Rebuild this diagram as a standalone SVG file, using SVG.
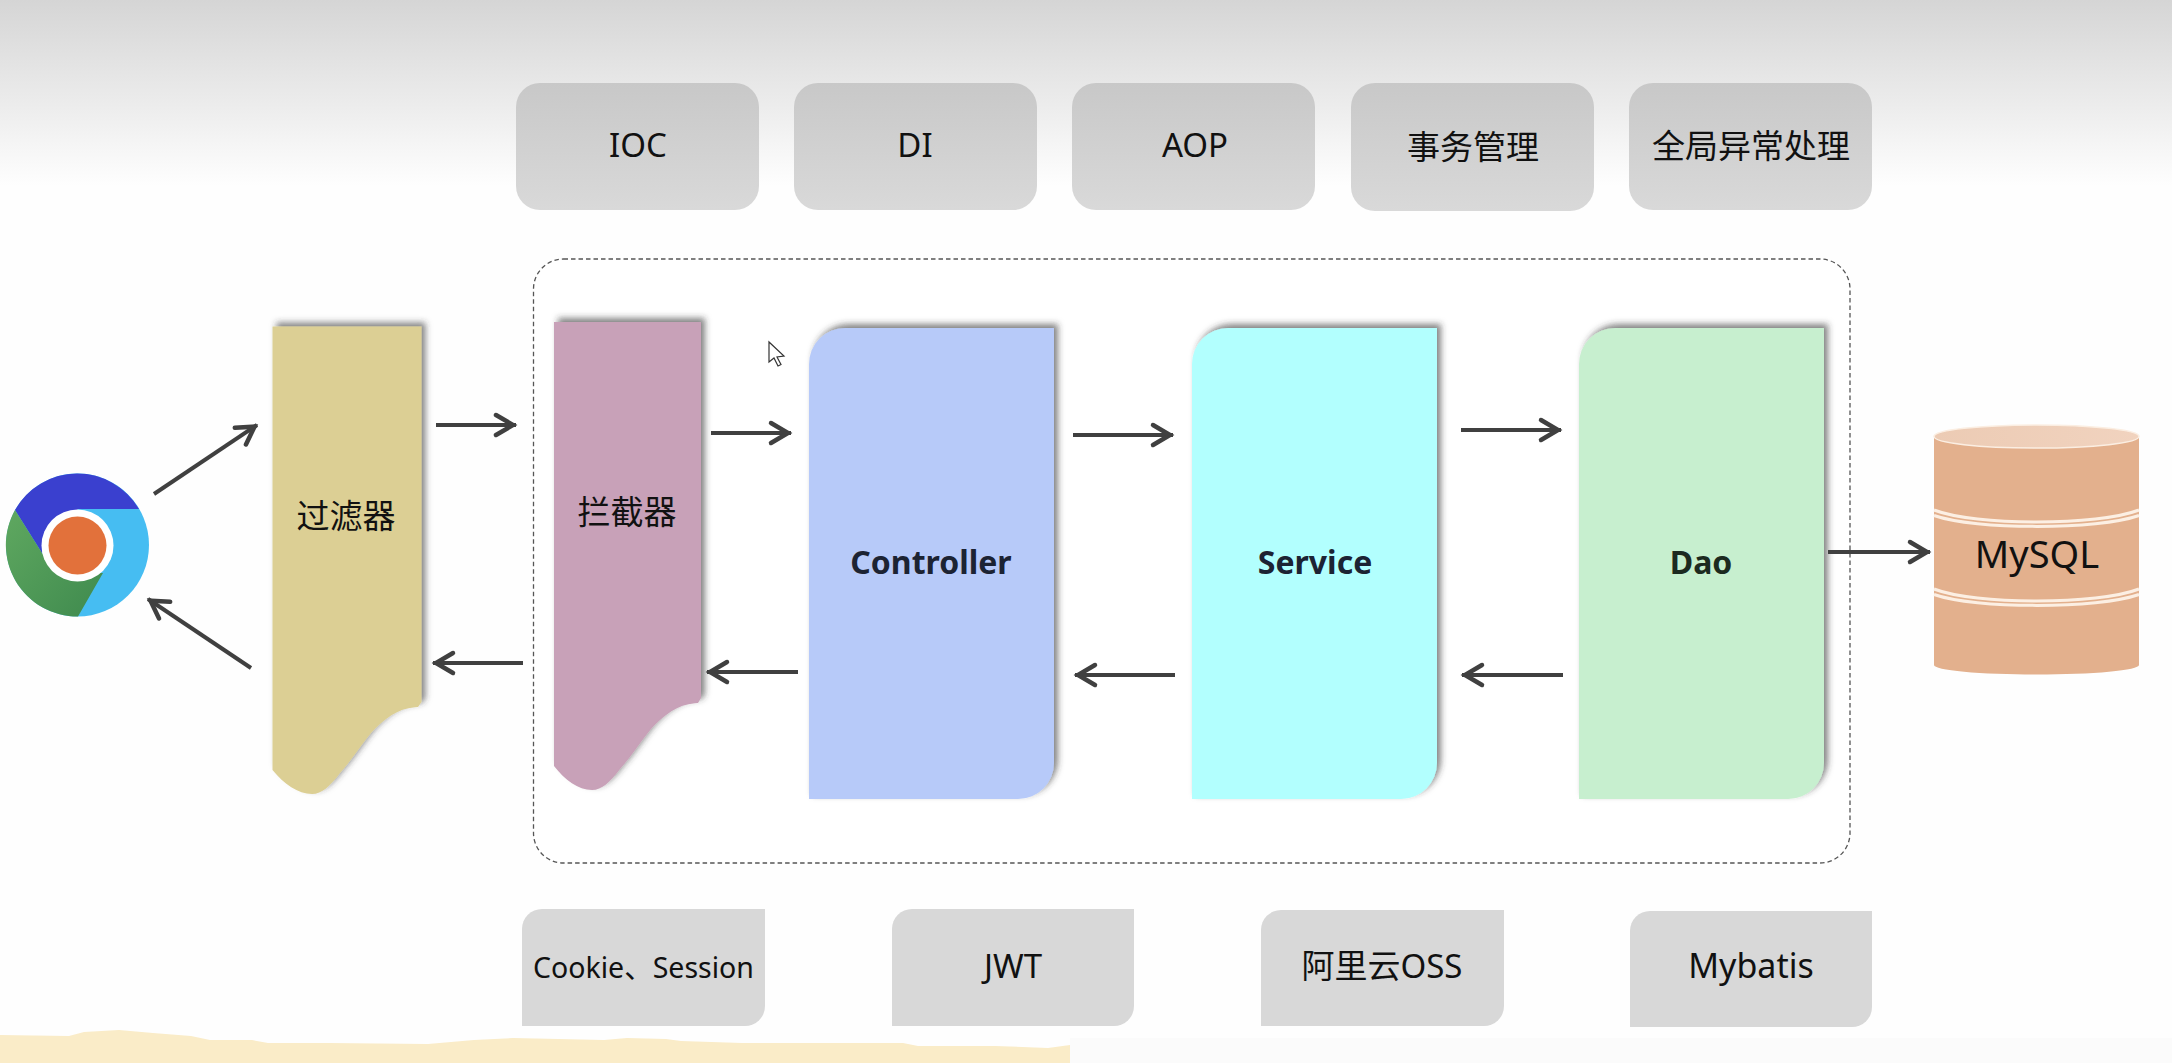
<svg xmlns="http://www.w3.org/2000/svg" width="2172" height="1063" viewBox="0 0 2172 1063">
  <style>
    text { font-family: "Noto Sans", "Noto Sans CJK SC", sans-serif; fill: #111; text-anchor: middle; }
    .t { font-size: 33px; }
    .b { font-size: 32px; font-weight: 700; fill: #1c2333; }
    .top { fill: url(#topBox); }
    .bot { fill: #d8d8d8; }
    .arrow { fill: none; stroke: #404040; stroke-width: 4; marker-end: url(#head); }
    .layer { filter: url(#lift); }
    .band { fill: none; stroke: #fcefe3; stroke-width: 3; }
  </style>
  <defs>
    <linearGradient id="sky" x1="0" y1="0" x2="0" y2="1">
      <stop offset="0" stop-color="#d5d5d5"/>
      <stop offset="1" stop-color="#fefefe"/>
    </linearGradient>
    <linearGradient id="topBox" x1="0" y1="0" x2="0" y2="1">
      <stop offset="0" stop-color="#c8c8c8"/>
      <stop offset="1" stop-color="#d9d9d9"/>
    </linearGradient>
    <linearGradient id="lid" x1="0" y1="0" x2="1" y2="0">
      <stop offset="0" stop-color="#eccbb4"/>
      <stop offset="1" stop-color="#f1d3bf"/>
    </linearGradient>
    <linearGradient id="leaf" x1="0" y1="0" x2="1" y2="1">
      <stop offset="0" stop-color="#5fa860"/>
      <stop offset="1" stop-color="#3f8a4e"/>
    </linearGradient>
    <filter id="lift" x="-15%" y="-5%" width="130%" height="110%">
      <feDropShadow dx="4" dy="-4" stdDeviation="3" flood-color="#333" flood-opacity="0.6"/>
    </filter>
    <marker id="head" markerUnits="userSpaceOnUse" markerWidth="32" markerHeight="30" refX="25" refY="15" orient="auto">
      <path d="M5 5 L22 15 L5 25" fill="none" stroke="#404040" stroke-width="4.5" stroke-linecap="round" stroke-linejoin="miter"/>
    </marker>
  </defs>

  <!-- page backdrop -->
  <rect width="2172" height="1063" fill="#fefefe"/>
  <rect width="2172" height="186" fill="url(#sky)"/>
  <rect x="1070" y="1038" width="1102" height="25" fill="#fbfbfb"/>
  <path id="paper-strip" fill="#faecc8" d="M0 1035 L69 1036 L84 1032 L119 1030 L153 1033 L191 1036 L210 1040 L252 1040 L268 1043 L329 1043 L428 1044 L474 1040 L513 1038 L604 1040 L627 1038 L666 1039 L681 1041 L742 1043 L903 1043 L918 1046 L995 1046 L1048 1048 L1070 1045 V1063 H0 Z"/>

  <!-- container boundary -->
  <rect id="container" x="533.5" y="259" width="1316.5" height="604" rx="30" fill="#fff" stroke="#555" stroke-width="1.3" stroke-dasharray="4.5 3"/>

  <!-- cross-cutting capabilities -->
  <g id="ioc"><rect class="top" x="516" y="83" width="243" height="127" rx="24"/><text class="t" x="638" y="157">IOC</text></g>
  <g id="di"><rect class="top" x="794" y="83" width="243" height="127" rx="24"/><text class="t" x="915" y="157">DI</text></g>
  <g id="aop"><rect class="top" x="1072" y="83" width="243" height="127" rx="24"/><text class="t" x="1195" y="157">AOP</text></g>
  <g id="tx"><rect class="top" x="1351" y="83" width="243" height="128" rx="24"/><text class="t" x="1473" y="159">事务管理</text></g>
  <g id="errors"><rect class="top" x="1629" y="83" width="243" height="127" rx="24"/><text class="t" x="1751" y="158">全局异常处理</text></g>

  <!-- browser -->
  <g id="browser">
    <circle cx="77.5" cy="545" r="71.5" fill="#46bdf2"/>
    <path d="M15 510 A71.5 71.5 0 0 1 139 509 H78 L42 553 Z" fill="#3a40cf"/>
    <path d="M15 510 A71.5 71.5 0 0 0 78 616.5 L103 573 H60 L42 553 Z" fill="url(#leaf)"/>
    <circle cx="77.5" cy="545.5" r="36" fill="#fff"/>
    <circle cx="77.5" cy="545.5" r="29" fill="#e2713b"/>
  </g>

  <!-- request pipeline -->
  <g id="filter">
    <path class="layer" fill="#dccf94" d="M272.5 326.5 H421.5 V702 L418 707 C400 708 388 715 371 733 C360 746 352 760 340 773 C330 786 322 794 312 794 C298 794 284 784 272.5 770 Z"/>
    <text class="t" x="346" y="528">过滤器</text>
  </g>
  <g id="interceptor">
    <path class="layer" fill="#c8a1b8" d="M554 322 H701 V698 L698 703 C680 704 668 711 651 729 C640 742 632 756 620 769 C610 782 602 790 592 790 C578 790 565 780 554 766 Z"/>
    <text class="t" x="627" y="524">拦截器</text>
  </g>
  <g id="controller">
    <path class="layer" fill="#b7caf9" d="M845 328 H1054 V763 A36 36 0 0 1 1018 799 H809 V364 A36 36 0 0 1 845 328 Z"/>
    <text class="b" x="931" y="574">Controller</text>
  </g>
  <g id="service">
    <path class="layer" fill="#b2fffe" d="M1228 328 H1437 V763 A36 36 0 0 1 1401 799 H1192 V364 A36 36 0 0 1 1228 328 Z"/>
    <text class="b" x="1315" y="574">Service</text>
  </g>
  <g id="dao">
    <path class="layer" fill="#c7efcf" d="M1615 328 H1824 V763 A36 36 0 0 1 1788 799 H1579 V364 A36 36 0 0 1 1615 328 Z"/>
    <text class="b" x="1701" y="574" style="fill:#1c2a20">Dao</text>
  </g>

  <!-- database -->
  <g id="mysql">
    <path fill="#e3b08d" d="M1934 437 V665 A102.5 9.5 0 0 0 2139 665 V437 Z"/>
    <ellipse cx="2036.5" cy="436.5" rx="102.5" ry="11.5" fill="url(#lid)" stroke="#fbeee2" stroke-width="1.5"/>
    <path class="band" d="M1934 510 C1975 526 2098 526 2139 510"/>
    <path class="band" d="M1934 515.500 C1975 530 2098 530 2139 515.500"/>
    <path class="band" d="M1934 589 C1975 605 2098 605 2139 589"/>
    <path class="band" d="M1934 594.500 C1975 609 2098 609 2139 594.500"/>
    <text x="2037" y="568" font-size="38">MySQL</text>
  </g>

  <!-- supporting technologies -->
  <g id="session"><path class="bot" d="M542 909 H765 V1006 A20 20 0 0 1 745 1026 H522 V929 A20 20 0 0 1 542 909 Z"/><text x="643.500" y="978" font-size="28.500">Cookie、Session</text></g>
  <g id="jwt"><path class="bot" d="M912 909 H1134 V1006 A20 20 0 0 1 1114 1026 H892 V929 A20 20 0 0 1 912 909 Z"/><text class="t" x="1013" y="978">JWT</text></g>
  <g id="oss"><path class="bot" d="M1281 910 H1504 V1006 A20 20 0 0 1 1484 1026 H1261 V930 A20 20 0 0 1 1281 910 Z"/><text class="t" x="1382" y="978">阿里云OSS</text></g>
  <g id="mybatis"><path class="bot" d="M1650 911 H1872 V1007 A20 20 0 0 1 1852 1027 H1630 V931 A20 20 0 0 1 1650 911 Z"/><text x="1751" y="978" font-size="34">Mybatis</text></g>

  <!-- connectors -->
  <g id="connectors">
    <line class="arrow" x1="154" y1="494" x2="257" y2="425"/>
    <line class="arrow" x1="251" y1="668" x2="148" y2="599"/>
    <line class="arrow" x1="436" y1="425" x2="516" y2="425"/>
    <line class="arrow" x1="523" y1="663" x2="433" y2="663"/>
    <line class="arrow" x1="711" y1="433" x2="791" y2="433"/>
    <line class="arrow" x1="798" y1="672" x2="707" y2="672"/>
    <line class="arrow" x1="1073" y1="435" x2="1173" y2="435"/>
    <line class="arrow" x1="1175" y1="675" x2="1075" y2="675"/>
    <line class="arrow" x1="1461" y1="430" x2="1561" y2="430"/>
    <line class="arrow" x1="1563" y1="675" x2="1462" y2="675"/>
    <line class="arrow" x1="1828" y1="552" x2="1930" y2="552"/>
  </g>

  <!-- mouse pointer -->
  <path id="pointer" d="M769 342 V362 L774 358 L778 366 L781 364.500 L777 357 L784 356 Z" fill="#fff" stroke="#333" stroke-width="1.2"/>
</svg>
